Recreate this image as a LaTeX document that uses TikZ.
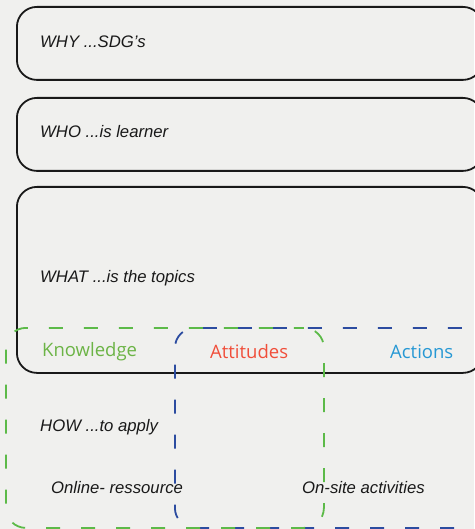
\documentclass[tikz,border=0pt]{standalone}
\usepackage{fontspec}
\setmainfont{Liberation Sans}
\newfontfamily\labelfont{Open Sans}
\definecolor{bg}{RGB}{240,240,238}
\definecolor{kgreen}{RGB}{108,180,70}
\definecolor{dgreen}{RGB}{92,186,72}
\definecolor{ared}{RGB}{240,78,58}
\definecolor{ablue}{RGB}{38,152,212}
\definecolor{dblue}{RGB}{44,76,160}
\begin{document}
\begin{tikzpicture}[x=1pt,y=-1pt,
  box/.style={draw=black!90, line width=1.8pt, rounded corners=20pt, rectangle, anchor=north west, inner sep=0pt},
  dgbox/.style={draw=dgreen, line width=1.8pt, rounded corners=20pt, rectangle, anchor=north west, inner sep=0pt, dash pattern=on 14pt off 21pt, dash phase=4pt},
  dbbox/.style={draw=dblue, line width=1.8pt, rounded corners=20pt, rectangle, anchor=north west, inner sep=0pt, dash pattern=on 14pt off 21pt, dash phase=12pt},
  itxt/.style={anchor=west, inner sep=0pt, font=\fontsize{16.7}{19}\selectfont\itshape, text=black!90},
  lbl/.style={anchor=west, inner sep=0pt, font=\labelfont\fontsize{18.5}{21}\selectfont}
]
\fill[bg] (0,0) rectangle (474,529);
\useasboundingbox (0,0) rectangle (474,529);

\node[box, minimum width=466pt, minimum height=73pt] (why) at (16,6) {};
\node[box, minimum width=466pt, minimum height=73pt] (who) at (16,97) {};
\node[box, minimum width=466pt, minimum height=186pt] (what) at (16,186) {};

\node[dbbox, minimum width=330pt, minimum height=200pt] (attact) at (174,327) {};
\node[dgbox, minimum width=318pt, minimum height=200pt] (knowatt) at (5,327) {};

\node[itxt] (whyt) at (40,42) {WHY ...SDG’s};
\node[itxt] (whot) at (40,132) {WHO ...is learner};
\node[itxt] (whatt) at (40,278) {WHAT ...is the topics};
\node[itxt] (howt) at (40,427) {HOW ...to apply};
\node[itxt] (online) at (51,488) {Online- ressource};
\node[itxt] (onsite) at (302,488) {On-site activities};

\node[lbl, text=kgreen] (know) at (42,352) {Knowledge};
\node[lbl, text=ared] (att) at (210,352) {Attitudes};
\node[lbl, text=ablue] (act) at (390,352) {Actions};
\end{tikzpicture}
\end{document}
